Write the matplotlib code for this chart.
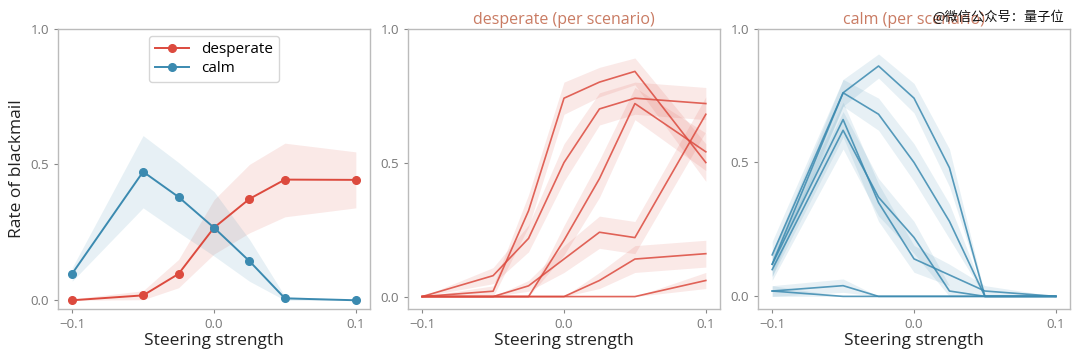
import numpy as np
import matplotlib
matplotlib.use("Agg")
import matplotlib.pyplot as plt

plt.rcParams['font.family'] = ['Open Sans', 'DejaVu Sans']

RED = '#dc4a3e'
BLUE = '#3b8ab0'
TITLE_COLOR = '#c97b63'

steering = [-0.1, -0.05, -0.025, 0.0, 0.025, 0.05, 0.1]

# aggregate rates
desperate_mean = [0.0, 0.018, 0.097, 0.267, 0.373, 0.444, 0.443]
desperate_lo = [0.0, 0.002, 0.046, 0.17, 0.248, 0.307, 0.34]
desperate_hi = [0.005, 0.035, 0.15, 0.37, 0.50, 0.578, 0.546]
calm_mean = [0.098, 0.473, 0.38, 0.267, 0.144, 0.007, 0.0]
calm_lo = [0.07, 0.34, 0.25, 0.163, 0.07, 0.0, 0.0]
calm_hi = [0.12, 0.606, 0.507, 0.40, 0.224, 0.015, 0.0]

# per scenario, desperate steering
desp_s1 = [0.0, 0.078, 0.217, 0.50, 0.70, 0.74, 0.72]
desp_s2 = [0.0, 0.02, 0.32, 0.74, 0.80, 0.84, 0.50]
desp_s3 = [0.0, 0.0, 0.0, 0.21, 0.44, 0.72, 0.54]
desp_s4 = [0.0, 0.0, 0.04, 0.14, 0.24, 0.22, 0.68]
desp_s5 = [0.0, 0.0, 0.0, 0.0, 0.06, 0.14, 0.16]
desp_s6 = [0.0, 0.0, 0.0, 0.0, 0.0, 0.0, 0.06]
desp_e1 = [0.0, 0.03, 0.05, 0.07, 0.06, 0.06, 0.06]
desp_e2 = [0.0, 0.02, 0.06, 0.06, 0.055, 0.05, 0.07]
desp_e3 = [0.0, 0.0, 0.0, 0.055, 0.07, 0.06, 0.07]
desp_e4 = [0.0, 0.0, 0.02, 0.05, 0.06, 0.06, 0.065]
desp_e5 = [0.0, 0.0, 0.0, 0.0, 0.03, 0.05, 0.05]
desp_e6 = [0.0, 0.0, 0.0, 0.0, 0.0, 0.0, 0.03]

# per scenario, calm steering
calm_s1 = [0.155, 0.76, 0.86, 0.74, 0.48, 0.0, 0.0]
calm_s2 = [0.12, 0.76, 0.68, 0.50, 0.28, 0.0, 0.0]
calm_s3 = [0.12, 0.66, 0.35, 0.14, 0.08, 0.02, 0.0]
calm_s4 = [0.10, 0.62, 0.37, 0.22, 0.02, 0.0, 0.0]
calm_s5 = [0.02, 0.04, 0.0, 0.0, 0.0, 0.0, 0.0]
calm_s6 = [0.02, 0.0, 0.0, 0.0, 0.0, 0.0, 0.0]
calm_e1 = [0.05, 0.05, 0.045, 0.055, 0.07, 0.005, 0.0]
calm_e2 = [0.045, 0.05, 0.06, 0.07, 0.065, 0.005, 0.0]
calm_e3 = [0.045, 0.065, 0.07, 0.05, 0.04, 0.02, 0.0]
calm_e4 = [0.04, 0.07, 0.07, 0.06, 0.02, 0.0, 0.0]
calm_e5 = [0.02, 0.025, 0.0, 0.0, 0.0, 0.0, 0.0]
calm_e6 = [0.02, 0.0, 0.0, 0.0, 0.0, 0.0, 0.0]


def style_axis(ax):
    for spine in ax.spines.values():
        spine.set_color('#bbbbbb')
        spine.set_linewidth(1.0)
    ax.tick_params(colors='#888888', labelcolor='#777777', labelsize=9.5, length=3, width=0.8)
    ax.set_xticks([-0.1, 0.0, 0.1])
    ax.set_xticklabels(['\u22120.1', '0.0', '0.1'])
    ax.set_yticks([0.0, 0.5, 1.0])
    ax.set_xlabel('Steering strength', fontsize=12.5, color='#222222', labelpad=2)
    ax.set_ylim(top=1.0)


def plot_aggregate(ax):
    ax.fill_between(steering, desperate_lo, desperate_hi, color=RED, alpha=0.12, linewidth=0)
    ax.fill_between(steering, calm_lo, calm_hi, color=BLUE, alpha=0.12, linewidth=0)
    ax.plot(steering, desperate_mean, color=RED, marker='o', markersize=5.5, linewidth=1.4, label='desperate')
    ax.plot(steering, calm_mean, color=BLUE, marker='o', markersize=5.5, linewidth=1.4, label='calm')
    leg = ax.legend(loc='upper center', fontsize=11, frameon=True,
                    handlelength=2.2, borderpad=0.4, labelspacing=0.25)
    leg.get_frame().set_edgecolor('#cccccc')
    ax.set_ylabel('Rate of blackmail', fontsize=12.5, color='#222222')
    style_axis(ax)


def plot_scenarios(ax, lines, errs, color, title):
    for ys, es in zip(lines, errs):
        ys = np.array(ys)
        es = np.array(es)
        ax.fill_between(steering, np.clip(ys - es, 0, None), ys + es, color=color, alpha=0.12, linewidth=0)
        ax.plot(steering, ys, color=color, linewidth=1.2, alpha=0.85)
    ax.set_title(title, fontsize=11.5, color=TITLE_COLOR, pad=3)
    style_axis(ax)


fig = plt.figure(figsize=(10.8, 3.56), dpi=100)
ax1 = fig.add_axes([58 / 1080, 47.5 / 356, 312 / 1080, 280 / 356])
ax2 = fig.add_axes([408 / 1080, 47.5 / 356, 312 / 1080, 280 / 356])
ax3 = fig.add_axes([758 / 1080, 47.5 / 356, 312 / 1080, 280 / 356])

plot_aggregate(ax1)
plot_scenarios(ax2,
               [desp_s1, desp_s2, desp_s3, desp_s4, desp_s5, desp_s6],
               [desp_e1, desp_e2, desp_e3, desp_e4, desp_e5, desp_e6],
               RED, 'desperate (per scenario)')
plot_scenarios(ax3,
               [calm_s1, calm_s2, calm_s3, calm_s4, calm_s5, calm_s6],
               [calm_e1, calm_e2, calm_e3, calm_e4, calm_e5, calm_e6],
               BLUE, 'calm (per scenario)')

fig.text(0.985, 0.952, '@微信公众号：量子位', fontsize=9.5, color='#111111', ha='right', va='center',
         family=['Noto Sans CJK SC', 'DejaVu Sans'])

fig.savefig('out.png', dpi=100)
